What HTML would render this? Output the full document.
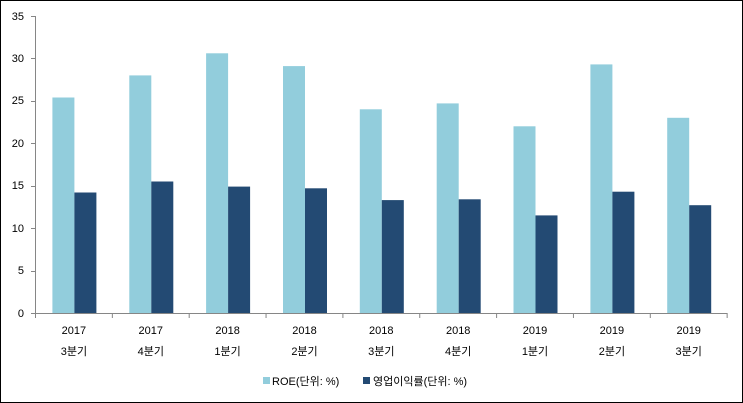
<html><body style="margin:0;background:#fff">
<svg width="743" height="403" xmlns="http://www.w3.org/2000/svg" font-family="Liberation Sans, Noto Sans CJK KR, sans-serif" font-size="11">
<rect x="0.5" y="0.5" width="742" height="402" fill="#fff" stroke="#000"/>
<g fill="#92cddc">
<rect x="52.4" y="97.5" width="22" height="215.5"/>
<rect x="129.3" y="75.4" width="22" height="237.6"/>
<rect x="206.1" y="53.3" width="22" height="259.7"/>
<rect x="283.0" y="66.1" width="22" height="246.9"/>
<rect x="359.8" y="109.3" width="22" height="203.7"/>
<rect x="436.7" y="103.4" width="22" height="209.6"/>
<rect x="513.5" y="126.3" width="22" height="186.7"/>
<rect x="590.4" y="64.4" width="22" height="248.6"/>
<rect x="667.2" y="117.8" width="22" height="195.2"/>
</g>
<g fill="#234a73">
<rect x="74.4" y="192.5" width="22" height="120.5"/>
<rect x="151.3" y="181.5" width="22" height="131.5"/>
<rect x="228.1" y="186.6" width="22" height="126.4"/>
<rect x="305.0" y="188.3" width="22" height="124.7"/>
<rect x="381.8" y="200.1" width="22" height="112.9"/>
<rect x="458.7" y="199.3" width="22" height="113.7"/>
<rect x="535.5" y="215.4" width="22" height="97.6"/>
<rect x="612.4" y="191.7" width="22" height="121.3"/>
<rect x="689.2" y="205.2" width="22" height="107.8"/>
</g>
<line x1="35.5" y1="16" x2="35.5" y2="313" stroke="#868686"/>
<line x1="35" y1="313.5" x2="727" y2="313.5" stroke="#868686"/>
<g text-anchor="end" fill="#000">
<text x="24" y="317">0</text><text x="24" y="274">5</text><text x="24" y="232">10</text><text x="24" y="189">15</text><text x="24" y="147">20</text><text x="24" y="104">25</text><text x="24" y="62">30</text><text x="24" y="20">35</text>
</g>
<g stroke="#868686">
<line x1="31" x2="35" y1="313.5" y2="313.5"/><line x1="31" x2="35" y1="271.5" y2="271.5"/><line x1="31" x2="35" y1="228.5" y2="228.5"/><line x1="31" x2="35" y1="186.5" y2="186.5"/><line x1="31" x2="35" y1="143.5" y2="143.5"/><line x1="31" x2="35" y1="101.5" y2="101.5"/><line x1="31" x2="35" y1="58.5" y2="58.5"/><line x1="31" x2="35" y1="16.5" y2="16.5"/>
<line x1="35.5" x2="35.5" y1="313" y2="318"/>
<line x1="112.35" x2="112.35" y1="313" y2="318"/>
<line x1="189.2" x2="189.2" y1="313" y2="318"/>
<line x1="266.05" x2="266.05" y1="313" y2="318"/>
<line x1="342.9" x2="342.9" y1="313" y2="318"/>
<line x1="419.75" x2="419.75" y1="313" y2="318"/>
<line x1="496.6" x2="496.6" y1="313" y2="318"/>
<line x1="573.45" x2="573.45" y1="313" y2="318"/>
<line x1="650.3" x2="650.3" y1="313" y2="318"/>
<line x1="727.15" x2="727.15" y1="313" y2="318"/>
</g>
<g text-anchor="middle">
<text x="73.9" y="334">2017</text><text x="73.9" y="355">3분기</text>
<text x="150.8" y="334">2017</text><text x="150.8" y="355">4분기</text>
<text x="227.6" y="334">2018</text><text x="227.6" y="355">1분기</text>
<text x="304.5" y="334">2018</text><text x="304.5" y="355">2분기</text>
<text x="381.3" y="334">2018</text><text x="381.3" y="355">3분기</text>
<text x="458.2" y="334">2018</text><text x="458.2" y="355">4분기</text>
<text x="535.0" y="334">2019</text><text x="535.0" y="355">1분기</text>
<text x="611.9" y="334">2019</text><text x="611.9" y="355">2분기</text>
<text x="688.7" y="334">2019</text><text x="688.7" y="355">3분기</text>
</g>
<rect x="263" y="377" width="7" height="7" fill="#92cddc"/>
<text x="272" y="385">ROE(단위: %)</text>
<rect x="363" y="377" width="7" height="7" fill="#234a73"/>
<text x="373" y="385">영업이익률(단위: %)</text>
</svg></body></html>
